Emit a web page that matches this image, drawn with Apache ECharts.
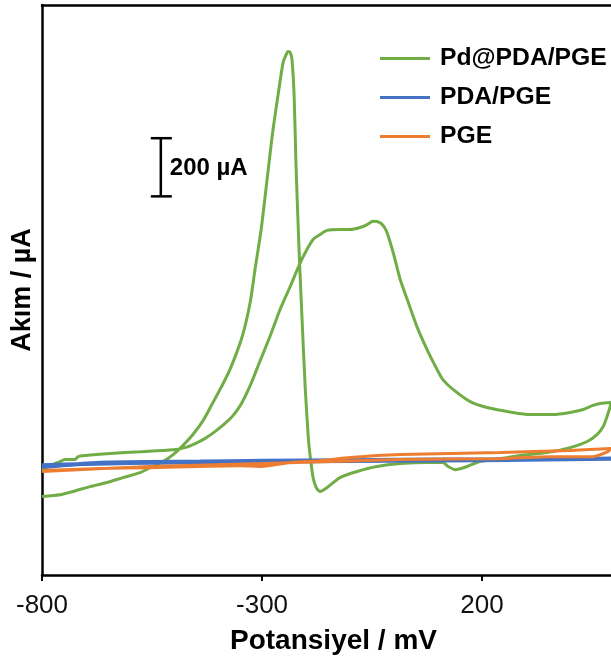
<!DOCTYPE html>
<html><head><meta charset="utf-8">
<script src="https://cdn.jsdelivr.net/npm/echarts@6/dist/echarts.min.js"></script>
<style>html,body{margin:0;padding:0;background:#fff}#c{width:611px;height:662px}</style>
</head><body><div id="c"></div>
<script>
// Potential (mV) / current (µA) pairs, anodic scan then reverse scan
const pdFwd = [[-800,-28],[-782,-14],[-759,0],[-748,7],[-725,7],[-718,17],[-702,21],[-645,28],[-577,34],[-502,41],[-475,48],[-452,62],[-430,79],[-407,103],[-384,131],[-366,158],[-348,196],[-327,261],[-305,344],[-282,430],[-259,523],[-236,602],[-214,681],[-198,729],[-184,764],[-168,781],[-152,795],[-123,798],[-100,798],[-77,805],[-61,815],[-48,826],[-32,822],[-23,808],[-16,788],[-2,719],[14,626],[30,557],[52,464],[75,385],[98,316],[111,282],[134,248],[173,206],[211,186],[270,169],[309,162],[361,162],[400,169],[430,179],[452,193],[468,200],[493,203]];
const pdRev = [[491,189],[484,155],[475,120],[461,93],[439,69],[400,48],[348,31],[286,21],[241,10],[195,0],[166,-17],[139,-28],[123,-17],[111,-3],[75,-3],[14,-7],[-39,-17],[-84,-34],[-123,-55],[-152,-89],[-168,-103],[-177,-89],[-184,-55],[-191,24],[-195,86],[-202,258],[-209,488],[-214,660],[-218,815],[-223,1029],[-227,1256],[-232,1383],[-236,1407],[-241,1410],[-245,1400],[-252,1373],[-264,1256],[-275,1142],[-284,1029],[-293,912],[-302,798],[-316,660],[-327,547],[-345,430],[-373,316],[-393,255],[-414,196],[-434,141],[-457,93],[-480,55],[-502,24],[-525,0],[-555,-21],[-577,-38],[-616,-55],[-652,-72],[-691,-86],[-730,-103],[-759,-114],[-800,-120]];
const pdaFwd = [[-800,-19],[-668,-4],[-441,0],[-300,3],[-100,5],[100,7],[300,8],[493,10]];
const pdaRev = [[300,6],[100,4],[-100,2],[-300,0],[-500,-3],[-700,-8],[-800,-13]];
const pgeFwd = [[-800,-31],[-668,-24],[-555,-21],[-350,-14],[-300,-17],[-236,-3],[-168,3],[-100,14],[14,24],[241,31],[400,38],[493,45]];
const pgeRev = [[486,34],[452,17],[348,17],[241,10],[14,7],[-300,-7],[-555,-17],[-800,-34]];
const seriesNames = ['Pd@PDA/PGE','PDA/PGE','PGE'];
const xTicks = [-800,-300,200];
const scaleBar = [[-530, 912, 1112]];
const scaleLabel = '200 µA';

const FONT = "'Liberation Sans', Arial, sans-serif";
const chart = echarts.init(document.getElementById('c'), null, {renderer:'canvas'});
chart.setOption({
  animation:false,
  backgroundColor:'#fff',
  grid:{left:42,right:0,top:5,bottom:87,containLabel:false},
  legend:{
    data:seriesNames, orient:'vertical', left:375, top:41, itemGap:14,
    itemWidth:50, itemHeight:3, icon:'rect',
    textStyle:{fontFamily:FONT,fontSize:24.7,fontWeight:'bold',color:'#000',lineHeight:24,padding:[0,0,0,5]}
  },
  xAxis:[{
    type:'value', min:-800, max:493, interval:500,
    axisLine:{show:true,onZero:false,lineStyle:{color:'#000',width:2.5}},
    axisTick:{show:true,length:6,lineStyle:{color:'#000',width:2}},
    axisLabel:{show:true,margin:18,fontFamily:FONT,fontSize:26,color:'#111',showMaxLabel:false,
      formatter:v=>xTicks.includes(v)?String(v):''},
    splitLine:{show:false},
    name:'Potansiyel / mV', nameLocation:'middle', nameGap:52,
    nameTextStyle:{fontFamily:FONT,fontSize:28,fontWeight:'bold',color:'#000',padding:[0,0,0,14]}
  },{
    type:'value', position:'top', min:-800, max:493,
    axisLine:{show:true,onZero:false,lineStyle:{color:'#000',width:2.5}},
    axisTick:{show:false}, axisLabel:{show:false}, splitLine:{show:false}
  }],
  yAxis:{
    type:'value', min:-390, max:1570,
    axisLine:{show:true,onZero:false,lineStyle:{color:'#000',width:2.5}},
    axisTick:{show:false}, axisLabel:{show:false}, splitLine:{show:false},
    name:'Akım / µA', nameLocation:'middle', nameGap:6,
    nameTextStyle:{fontFamily:FONT,fontSize:27,fontWeight:'bold',color:'#000'}
  },
  series:[
    {name:seriesNames[0],type:'line',data:pdFwd.concat(pdRev),showSymbol:false,symbol:'none',smooth:0.25,
      lineStyle:{color:'#70AD47',width:3},itemStyle:{color:'#70AD47'},z:2},
    {name:seriesNames[1],type:'line',data:pdaFwd.concat(pdaRev),showSymbol:false,symbol:'none',smooth:0.2,
      lineStyle:{color:'#4472C4',width:4},itemStyle:{color:'#4472C4'},z:3},
    {name:seriesNames[2],type:'line',data:pgeFwd.concat(pgeRev),showSymbol:false,symbol:'none',smooth:0.2,
      lineStyle:{color:'#ED7D31',width:3},itemStyle:{color:'#ED7D31'},z:4},
    {type:'custom',data:scaleBar,silent:true,z:5,
      renderItem:function(params,api){
        const top=api.coord([api.value(0),api.value(2)]);
        const bot=api.coord([api.value(0),api.value(1)]);
        const st={stroke:'#000',lineWidth:2.5};
        return {type:'group',children:[
          {type:'line',shape:{x1:top[0],y1:top[1],x2:bot[0],y2:bot[1]},style:st},
          {type:'line',shape:{x1:top[0]-10,y1:top[1],x2:top[0]+11,y2:top[1]},style:st},
          {type:'line',shape:{x1:bot[0]-10,y1:bot[1],x2:bot[0]+11,y2:bot[1]},style:st},
          {type:'text',x:top[0]+9,y:(top[1]+bot[1])/2+1,style:{text:scaleLabel,fontFamily:FONT,fontSize:24,fontWeight:'bold',fill:'#000',verticalAlign:'middle',align:'left'}}
        ]};
      }}
  ]
});
</script></body></html>
